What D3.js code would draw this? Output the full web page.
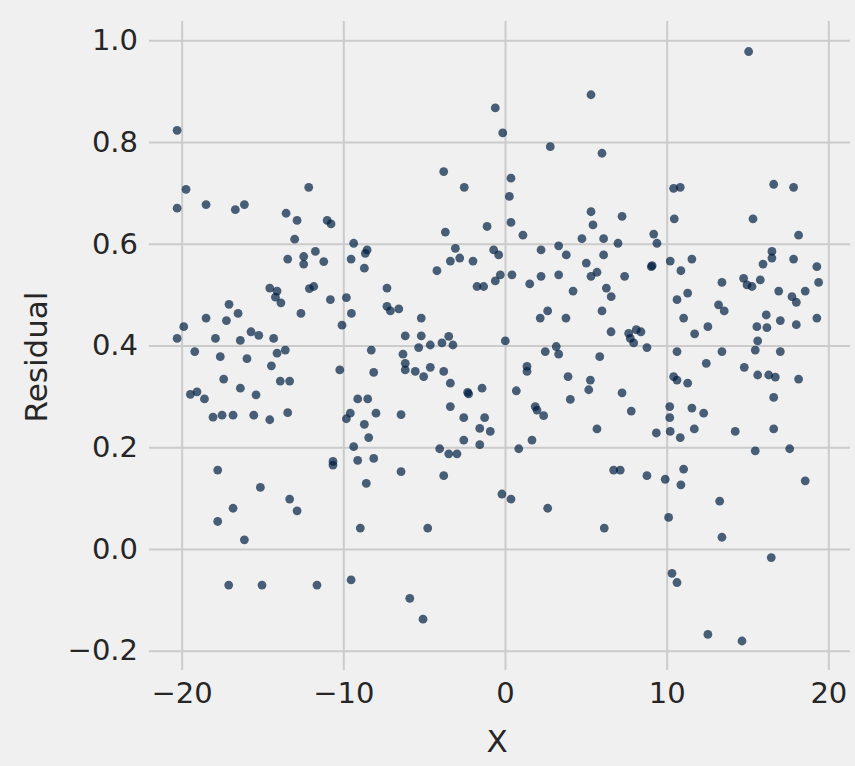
<!DOCTYPE html>
<html>
<head>
<meta charset="utf-8">
<script src="https://cdn.jsdelivr.net/npm/d3@7"></script>
<style>
  body { margin: 0; background: #f0f0f0; }
  svg { display: block; background: #f0f0f0; font-family: "DejaVu Sans", sans-serif; }
  .grid line { stroke: #cbcbcb; stroke-width: 2; }
  .grid .domain { display: none; }
  .tick text { fill: #262626; font-size: 29px; font-family: "DejaVu Sans", sans-serif; }
</style>
</head>
<body>
<div id="chart"></div>
<script>
// x and residual values
const xVals = [
  -20.28, -19.73, -20.28, -18.49, -16.68, -16.12, -13.54, -12.86, -12.14, -13.01,
  -13.44, -12.45, -12.45, -14.55, -14.10, -14.20, -13.86, -12.62, -17.07, -16.51,
  -17.23, -18.49, -19.87, -20.28, -17.91, -16.37, -15.71, -15.23, -14.31, -19.19,
  -17.61, -15.96, -13.59, -14.10, -14.45, -17.40, -16.37, -15.40, -13.90, -13.32,
  -19.46, -19.05, -18.59, -18.06, -17.50, -16.82, -15.54, -14.55, -13.44, -17.77,
  -15.13, -16.82, -17.77, -16.12, -13.32, -12.86, -17.09, -15.03, -11.63, -0.60,
  -3.79, -2.52, -11.00, -10.76, -1.11, -3.69, -9.36, -8.53, -8.64, -9.52,
  -8.70, -11.73, -11.21, -3.07, -3.38, -2.80, -1.98, -4.21, -1.73, -1.32,
  -11.83, -12.10, -7.30, -10.80, -9.81, -9.50, -10.08, -7.30, -7.09, -6.57,
  -5.18, -6.17, -5.18, -5.34, -4.62, -3.90, -3.48, -3.22, -8.27, -6.31,
  -6.17, -6.17, -5.55, -5.03, -4.62, -3.79, -3.38, -2.31, -2.25, -1.42,
  -10.22, -8.12, -9.11, -8.49, -9.57, -9.81, -7.98, -6.43, -8.70, -8.43,
  -9.36, -3.38, -2.55, -1.26, -1.56, -2.55, -1.56, -4.04, -3.48, -2.97,
  -10.64, -10.64, -9.11, -8.12, -8.58, -6.43, -3.79, -8.95, -4.78, -9.52,
  -5.89, -5.07, -0.14, 5.32, 2.80, 6.00, 0.37, 0.27, 0.37, 5.32,
  5.44, 7.24, 10.43, 10.84, 10.47, 15.07, 16.62, 17.85, 15.34, 18.16,
  1.11, -0.70, -0.39, 2.23, 3.32, 3.79, 4.76, 6.10, 6.99, 6.10,
  9.20, 9.40, 5.03, 9.05, 9.10, -0.29, -0.60, 0.43, 1.53, 2.23,
  3.32, 4.21, 5.32, 5.69, 7.40, 6.27, 6.57, 2.64, 2.18, 3.77,
  6.00, 6.56, 7.65, 8.12, 8.41, 7.96, 7.75, 8.78, 0.02, 2.49,
  3.17, 3.32, 5.86, 1.36, 1.36, 3.90, 5.28, 5.18, 0.70, 4.04,
  7.24, 1.87, 1.98, 2.39, 7.81, 5.69, 9.36, 1.67, 0.85, -0.91,
  10.19, 10.19, 10.22, 10.22, 10.88, 11.56, 13.42, 14.76, 14.97, 15.28,
  15.79, 15.96, 16.51, 16.51, 17.85, 19.29, 19.40, 16.93, 18.57, 17.75,
  18.02, 10.64, 11.30, 13.21, 13.56, 11.05, 12.55, 11.73, 16.16, 15.58,
  16.20, 17.03, 18.02, 19.29, 15.63, 15.48, 10.64, 13.42, 17.03, 12.45,
  14.80, 10.43, 10.64, 11.30, 15.63, 16.31, 16.72, 18.16, 16.62, 11.56,
  12.29, 11.71, 10.84, 14.24, 16.62, 15.48, 17.61, 6.72, 7.13, 8.78,
  9.91, -0.19, 0.37, 2.64, 6.14, 10.12, 10.33, 10.64, 11.05, 10.88,
  18.57, 13.28, 13.42, 16.47, 12.55, 14.66
];
const residuals = [
  0.823, 0.707, 0.670, 0.677, 0.667, 0.677, 0.660, 0.646, 0.711, 0.609,
  0.570, 0.575, 0.560, 0.513, 0.507, 0.495, 0.484, 0.463, 0.481, 0.463,
  0.449, 0.454, 0.437, 0.414, 0.414, 0.410, 0.427, 0.420, 0.414, 0.388,
  0.378, 0.374, 0.391, 0.385, 0.360, 0.334, 0.316, 0.303, 0.330, 0.330,
  0.304, 0.309, 0.295, 0.259, 0.263, 0.263, 0.263, 0.254, 0.268, 0.155,
  0.121, 0.080, 0.054, 0.018, 0.098, 0.075, -0.071, -0.071, -0.071, 0.867,
  0.742, 0.711, 0.646, 0.639, 0.634, 0.623, 0.601, 0.588, 0.581, 0.570,
  0.552, 0.585, 0.565, 0.591, 0.566, 0.572, 0.566, 0.547, 0.516, 0.516,
  0.516, 0.512, 0.513, 0.490, 0.494, 0.463, 0.440, 0.477, 0.468, 0.472,
  0.454, 0.419, 0.419, 0.396, 0.401, 0.405, 0.418, 0.401, 0.391, 0.383,
  0.365, 0.352, 0.349, 0.339, 0.357, 0.349, 0.326, 0.308, 0.305, 0.316,
  0.352, 0.347, 0.295, 0.295, 0.267, 0.256, 0.267, 0.264, 0.245, 0.219,
  0.201, 0.280, 0.258, 0.258, 0.237, 0.214, 0.205, 0.197, 0.187, 0.187,
  0.172, 0.165, 0.174, 0.178, 0.129, 0.152, 0.144, 0.041, 0.041, -0.061,
  -0.097, -0.138, 0.818, 0.893, 0.791, 0.778, 0.729, 0.693, 0.642, 0.663,
  0.637, 0.654, 0.709, 0.711, 0.649, 0.978, 0.717, 0.711, 0.649, 0.617,
  0.617, 0.588, 0.578, 0.588, 0.596, 0.578, 0.610, 0.610, 0.601, 0.578,
  0.619, 0.601, 0.562, 0.555, 0.557, 0.539, 0.527, 0.539, 0.521, 0.536,
  0.539, 0.507, 0.536, 0.544, 0.536, 0.513, 0.496, 0.468, 0.454, 0.454,
  0.468, 0.427, 0.424, 0.431, 0.427, 0.405, 0.414, 0.396, 0.409, 0.388,
  0.398, 0.383, 0.378, 0.359, 0.349, 0.339, 0.332, 0.313, 0.311, 0.294,
  0.307, 0.280, 0.273, 0.262, 0.271, 0.236, 0.228, 0.214, 0.197, 0.231,
  0.280, 0.258, 0.231, 0.566, 0.547, 0.570, 0.524, 0.532, 0.519, 0.516,
  0.529, 0.560, 0.585, 0.572, 0.570, 0.555, 0.524, 0.507, 0.507, 0.496,
  0.485, 0.490, 0.503, 0.480, 0.468, 0.454, 0.437, 0.423, 0.460, 0.437,
  0.435, 0.449, 0.441, 0.454, 0.409, 0.391, 0.388, 0.388, 0.388, 0.365,
  0.357, 0.339, 0.332, 0.326, 0.342, 0.342, 0.338, 0.334, 0.298, 0.277,
  0.267, 0.236, 0.219, 0.231, 0.236, 0.193, 0.197, 0.155, 0.155, 0.144,
  0.137, 0.108, 0.098, 0.080, 0.041, 0.062, -0.048, -0.066, 0.157, 0.126,
  0.134, 0.094, 0.023, -0.017, -0.168, -0.181
];
const xTicks = [-20, -10, 0, 10, 20];
const yTicks = [-0.2, 0.0, 0.2, 0.4, 0.6, 0.8, 1.0];

const width = 855;
const height = 766;
const margin = { top: 21, right: 5, bottom: 96, left: 149 };
const innerW = width - margin.left - margin.right;
const innerH = height - margin.top - margin.bottom;

let svg = d3.select("#chart")
  .append("svg")
  .attr("width", width)
  .attr("height", height);

let g = svg.append("g")
  .attr("transform", "translate(" + margin.left + "," + margin.top + ")");

let x = d3.scaleLinear().domain([-22.02, 21.34]).range([0, innerW]);
let y = d3.scaleLinear().domain([-0.238, 1.038]).range([innerH, 0]);

// gridlines + tick labels
g.append("g")
  .attr("class", "grid")
  .attr("transform", "translate(0," + innerH + ")")
  .call(d3.axisBottom(x).tickValues(xTicks).tickSize(-innerH).tickPadding(12).tickFormat(d3.format("d")));

g.append("g")
  .attr("class", "grid")
  .call(d3.axisLeft(y).tickValues(yTicks).tickSize(-innerW).tickPadding(11).tickFormat(d3.format(".1f")));

// points
g.append("g")
  .selectAll("circle")
  .data(xVals.map((v, i) => [v, residuals[i]]))
  .enter()
  .append("circle")
  .attr("cx", (d) => x(d[0]))
  .attr("cy", (d) => y(d[1]))
  .attr("r", 4.4)
  .attr("fill", "#001e42")
  .attr("fill-opacity", 0.7);

// axis labels
svg.append("text")
  .attr("x", 497)
  .attr("y", 752)
  .attr("text-anchor", "middle")
  .attr("fill", "#262626")
  .style("font-size", "31px")
  .text("X");

svg.append("text")
  .attr("transform", "translate(47,357) rotate(-90)")
  .attr("text-anchor", "middle")
  .attr("fill", "#262626")
  .style("font-size", "31px")
  .text("Residual");
</script>
</body>
</html>
